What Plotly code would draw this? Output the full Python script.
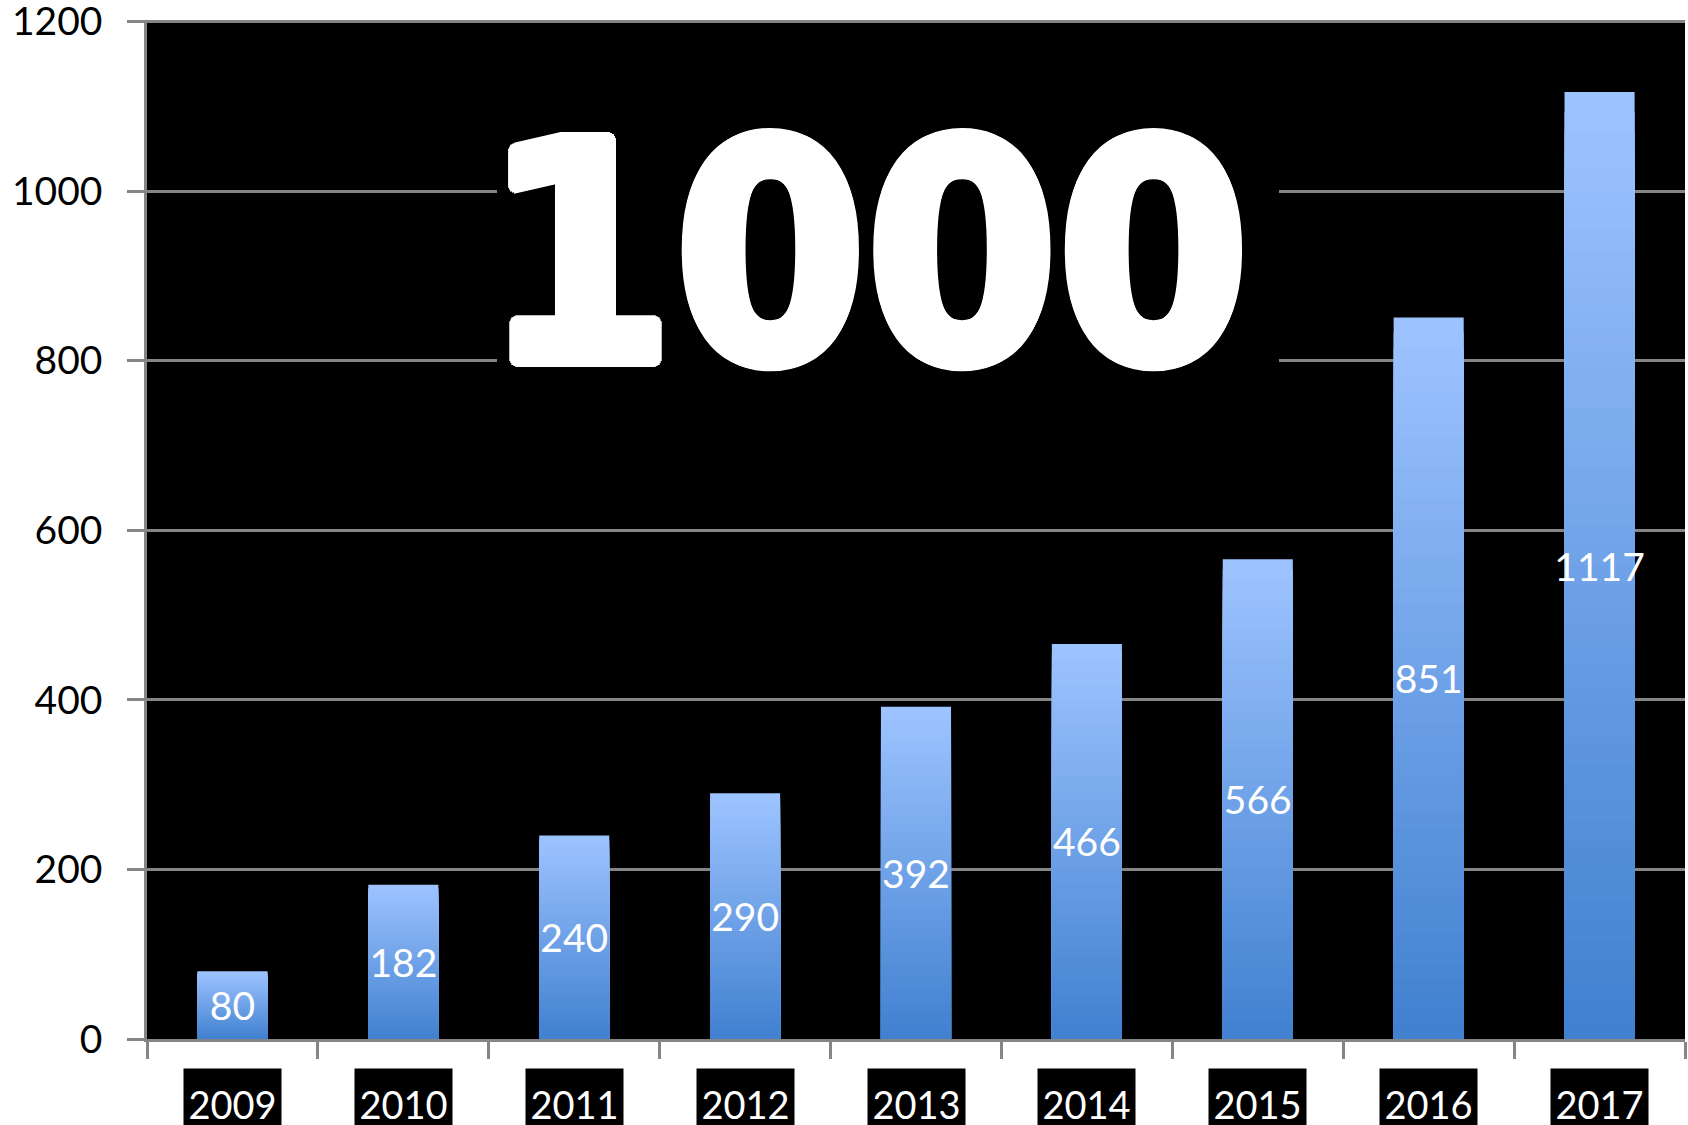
import plotly.graph_objects as go

years = ["2009", "2010", "2011", "2012", "2013", "2014", "2015", "2016", "2017"]
values = [80, 182, 240, 290, 392, 466, 566, 851, 1117]
y_ticks = [0, 200, 400, 600, 800, 1000, 1200]
big_label = "1000"

TOP = (158, 196, 255)
BOTTOM = (64, 128, 208)
N = 48

def mix(f):
    r = BOTTOM[0] + (TOP[0] - BOTTOM[0]) * f
    g = BOTTOM[1] + (TOP[1] - BOTTOM[1]) * f
    b = BOTTOM[2] + (TOP[2] - BOTTOM[2]) * f
    return f"rgb({r:.0f},{g:.0f},{b:.0f})"

fig = go.Figure()
# gradient: overlaid bars, tallest (lightest) first, shorter (darker) on top
for k in range(N):
    frac = 1 - k / N
    col = mix(1 - (k + 0.5) / N)
    fig.add_trace(go.Bar(
        x=years, y=[v * frac for v in values],
        marker=dict(color=col, line=dict(width=0)),
        hoverinfo="skip", showlegend=False,
    ))
# labels
fig.add_trace(go.Bar(
    x=years, y=values,
    marker=dict(color="rgba(0,0,0,0)", line=dict(width=0)),
    text=[str(v) for v in values], textposition="inside",
    insidetextanchor="middle", textangle=0, constraintext="none",
    textfont=dict(family="Lato, Open Sans, sans-serif", size=39, color="white"),
    showlegend=False,
))

GRAY = "#858585"
fig.update_layout(
    width=1688, height=1125,
    margin=dict(l=147, r=3, t=20, b=86, autoexpand=False),
    paper_bgcolor="white", plot_bgcolor="black",
    barmode="overlay", bargap=0.59,
    showlegend=False,
    xaxis=dict(
        type="category", showticklabels=False, range=[-0.5, len(years) - 0.5],
        automargin=False,
        ticks="outside", tickson="boundaries", ticklen=17, tickwidth=2.5, tickcolor=GRAY,
        showline=True, linecolor=GRAY, linewidth=2.5, showgrid=False,
    ),
    yaxis=dict(
        range=[0, 1202], tickvals=y_ticks, ticktext=[str(t) for t in y_ticks],
        automargin=False,
        ticks="outside", ticklen=17, tickwidth=2.5, tickcolor=GRAY,
        ticklabelstandoff=17, ticklabeloverflow="allow",
        tickfont=dict(family="Lato, Open Sans, sans-serif", size=39, color="black"),
        showline=True, linecolor=GRAY, linewidth=2.5,
        showgrid=True, gridcolor=GRAY, gridwidth=2.5, zeroline=False,
    ),
)

# black panel behind the big "1000"
fig.add_shape(type="rect", xref="paper", yref="y",
              x0=(497 - 147) / 1538, x1=(1279 - 147) / 1538, y0=710, y1=1150,
              fillcolor="black", line=dict(width=0), layer="above")
heavy = ", ".join(f"{dx}px {dy}px 0 #ffffff" for dx, dy in
                  [(6, 0), (-6, 0), (0, 6), (0, -6), (4, 4), (-4, 4), (4, -4), (-4, -4),
                   (5, 2), (-5, 2), (5, -2), (-5, -2), (2, 5), (-2, 5), (2, -5), (-2, -5)])
fig.add_annotation(
    text=big_label, xref="paper", yref="y", x=(866 - 147) / 1538, y=925,
    xanchor="center", yanchor="middle", showarrow=False,
    font=dict(family="Liberation Sans Narrow, DejaVu Sans Condensed, Roboto",
              size=306, color="white", weight="bold", shadow=heavy),
)

# year labels in black boxes under the axis
for i, yr in enumerate(years):
    fig.add_annotation(
        text=yr, x=i, xref="x", yref="paper", y=-(1068 - 1039) / 1019,
        xanchor="center", yanchor="top", showarrow=False,
        bgcolor="black", borderpad=1, width=95, height=57, valign="bottom",
        font=dict(family="Lato, Open Sans, sans-serif", size=38, color="white"),
    )

fig.write_html("out.html", config={"displayModeBar": False},
               post_script="document.body.style.margin='0px';")
